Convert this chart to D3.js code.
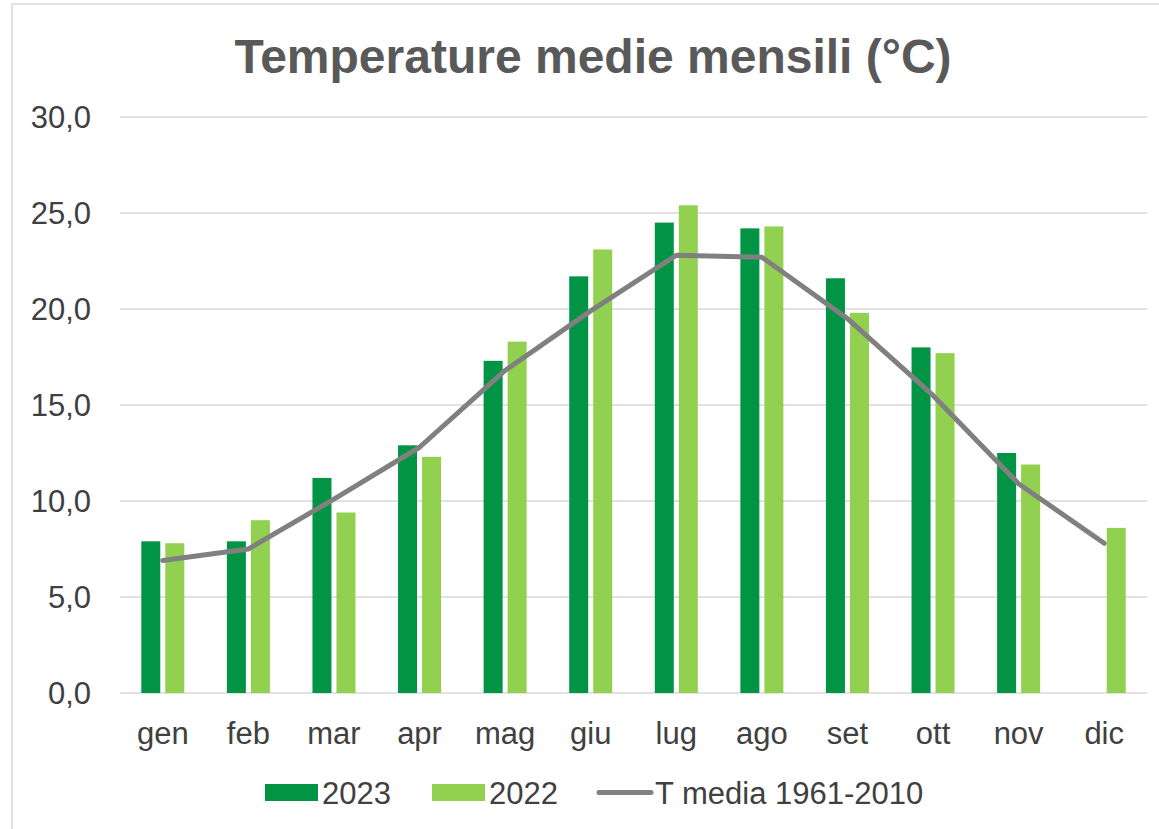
<!DOCTYPE html>
<html>
<head>
<meta charset="utf-8">
<script src="https://cdn.jsdelivr.net/npm/d3@7"></script>
<style>
  body { margin: 0; background: #fff; }
  text { font-family: "Liberation Sans", Arial, sans-serif; }
</style>
</head>
<body>
<div id="chart"></div>
<script>
// data
const months = ["gen", "feb", "mar", "apr", "mag", "giu", "lug", "ago", "set", "ott", "nov", "dic"];
const t2023 = [7.9, 7.9, 11.2, 12.9, 17.3, 21.7, 24.5, 24.2, 21.6, 18.0, 12.5, null];
const t2022 = [7.8, 9.0, 9.4, 12.3, 18.3, 23.1, 25.4, 24.3, 19.8, 17.7, 11.9, 8.6];
const tMedia = [6.9, 7.5, 10.1, 12.8, 16.8, 19.9, 22.8, 22.7, 19.5, 15.5, 10.9, 7.8];
const yTicks = [0, 5, 10, 15, 20, 25, 30];
const seriesNames = ["2023", "2022", "T media 1961-2010"];

const width = 1159, height = 829;
const margin = { top: 117, right: 12, bottom: 136, left: 120 };
const col2023 = "#009444", col2022 = "#92d050", colLine = "#808080";
const textCol = "#404040";
const fs = 31;

const svg = d3.select("#chart").append("svg")
  .attr("width", width)
  .attr("height", height);

// chart border (only top and left visible)
svg.append("rect")
  .attr("x", 12).attr("y", 4)
  .attr("width", width + 20).attr("height", height + 20)
  .attr("fill", "#fff")
  .attr("stroke", "#d9d9d9")
  .attr("stroke-width", 1.5);

svg.append("text")
  .attr("x", 593)
  .attr("y", 73)
  .attr("text-anchor", "middle")
  .attr("fill", "#595959")
  .attr("font-size", 48)
  .attr("font-weight", "bold")
  .text("Temperature medie mensili (°C)");

const x = d3.scaleBand()
  .domain(months)
  .range([margin.left, width - margin.right])
  .paddingInner(0.4976)
  .paddingOuter(0.2488);

const xs = d3.scaleBand()
  .domain(["2023", "2022"])
  .range([0, x.bandwidth()])
  .paddingInner(5 / 24);

const y = d3.scaleLinear()
  .domain([0, 30])
  .range([height - margin.bottom, margin.top]);

// gridlines
svg.append("g")
  .selectAll("line")
  .data(yTicks)
  .enter().append("line")
    .attr("x1", margin.left)
    .attr("x2", width - margin.right)
    .attr("y1", d => y(d))
    .attr("y2", d => y(d))
    .attr("stroke", "#d9d9d9")
    .attr("stroke-width", 1.5);

// y labels
svg.append("g")
  .selectAll("text")
  .data(yTicks)
  .enter().append("text")
    .attr("x", 91)
    .attr("y", d => y(d) + 11)
    .attr("text-anchor", "end")
    .attr("fill", textCol)
    .attr("font-size", fs)
    .text(d => d3.format(".1f")(d).replace(".", ","));

// x labels
svg.append("g")
  .selectAll("text")
  .data(months)
  .enter().append("text")
    .attr("x", d => x(d) + x.bandwidth() / 2)
    .attr("y", 744)
    .attr("text-anchor", "middle")
    .attr("fill", textCol)
    .attr("font-size", fs)
    .text(d => d);

// bars
const bars = [
  { key: "2023", values: t2023, color: col2023 },
  { key: "2022", values: t2022, color: col2022 }
];
bars.forEach(s => {
  svg.append("g")
    .selectAll("rect")
    .data(months.map((m, i) => ({ m, v: s.values[i] })).filter(d => d.v != null))
    .enter().append("rect")
      .attr("x", d => x(d.m) + xs(s.key))
      .attr("width", xs.bandwidth())
      .attr("y", d => y(d.v))
      .attr("height", d => y(0) - y(d.v))
      .attr("fill", s.color);
});

// average line
const line = d3.line()
  .x((d, i) => x(months[i]) + x.bandwidth() / 2)
  .y(d => y(d));

svg.append("path")
  .datum(tMedia)
  .attr("d", line)
  .attr("fill", "none")
  .attr("stroke", colLine)
  .attr("stroke-width", 5)
  .attr("stroke-linejoin", "round")
  .attr("stroke-linecap", "round");

// legend
const legend = svg.append("g").attr("transform", "translate(265,784)");
legend.append("rect").attr("x", 0).attr("y", 0).attr("width", 53).attr("height", 17).attr("fill", col2023);
legend.append("text").attr("x", 57).attr("y", 20).attr("fill", textCol).attr("font-size", fs).text(seriesNames[0]);
legend.append("rect").attr("x", 167).attr("y", 0).attr("width", 53).attr("height", 17).attr("fill", col2022);
legend.append("text").attr("x", 224).attr("y", 20).attr("fill", textCol).attr("font-size", fs).text(seriesNames[1]);
legend.append("line").attr("x1", 334).attr("x2", 386).attr("y1", 8.5).attr("y2", 8.5)
  .attr("stroke", colLine).attr("stroke-width", 5).attr("stroke-linecap", "round");
legend.append("text").attr("x", 390).attr("y", 20).attr("fill", textCol).attr("font-size", fs).text(seriesNames[2]);
</script>
</body>
</html>
